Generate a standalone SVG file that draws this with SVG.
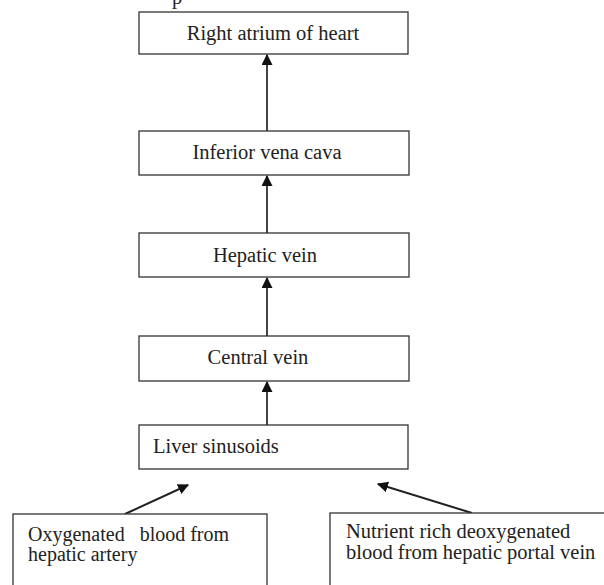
<svg xmlns="http://www.w3.org/2000/svg" width="604" height="585" viewBox="0 0 604 585">
<defs>
<style>
.box{fill:#fff;stroke:#333;stroke-width:1.3}
.t{font-family:"Liberation Serif","Times New Roman",serif;font-size:20.5px;fill:#222}
.s{font-size:20px}
.c{text-anchor:middle}
.ln{stroke:#444;stroke-width:2;fill:none}
.ln2{stroke:#222;stroke-width:2;fill:none}
</style>
<marker id="ah" viewBox="0 0 10 10" refX="9" refY="5" markerWidth="5.5" markerHeight="5.5" orient="auto" markerUnits="strokeWidth">
<path d="M0,0 L10,5 L0,10 z" fill="#111"/>
</marker>
</defs>
<rect width="604" height="585" fill="#fff"/>
<text class="t" x="172" y="4">p</text>
<g id="connectors">
<line class="ln" x1="267" y1="131" x2="267" y2="55" marker-end="url(#ah)"/>
<line class="ln" x1="267" y1="233" x2="267" y2="176" marker-end="url(#ah)"/>
<line class="ln" x1="267" y1="336" x2="267" y2="278" marker-end="url(#ah)"/>
<line class="ln" x1="267" y1="425" x2="267" y2="382" marker-end="url(#ah)"/>
<line class="ln2" x1="125" y1="514" x2="188" y2="485" marker-end="url(#ah)"/>
<line class="ln2" x1="472" y1="513" x2="378" y2="484" marker-end="url(#ah)"/>
</g>
<g id="n1"><rect class="box" x="139" y="12" width="269" height="42"/><text class="t c" x="273" y="40">Right atrium of heart</text></g>
<g id="n2"><rect class="box" x="139" y="131" width="270" height="44"/><text class="t c" x="267" y="159">Inferior vena cava</text></g>
<g id="n3"><rect class="box" x="139" y="233" width="270" height="44"/><text class="t c" x="265" y="262">Hepatic vein</text></g>
<g id="n4"><rect class="box" x="139" y="336" width="270" height="45"/><text class="t c" x="258" y="364">Central vein</text></g>
<g id="n5"><rect class="box" x="139" y="425" width="269" height="44"/><text class="t" x="153" y="453">Liver sinusoids</text></g>
<g id="n6"><rect class="box" x="13" y="514" width="254" height="80"/><text class="t s" x="28" y="541" xml:space="preserve">Oxygenated   blood from</text><text class="t s" x="28" y="561">hepatic artery</text></g>
<g id="n7"><rect class="box" x="330" y="513" width="290" height="80"/><text class="t" x="346" y="538">Nutrient rich deoxygenated</text><text class="t" x="346" y="559">blood from hepatic portal vein</text></g>
</svg>
